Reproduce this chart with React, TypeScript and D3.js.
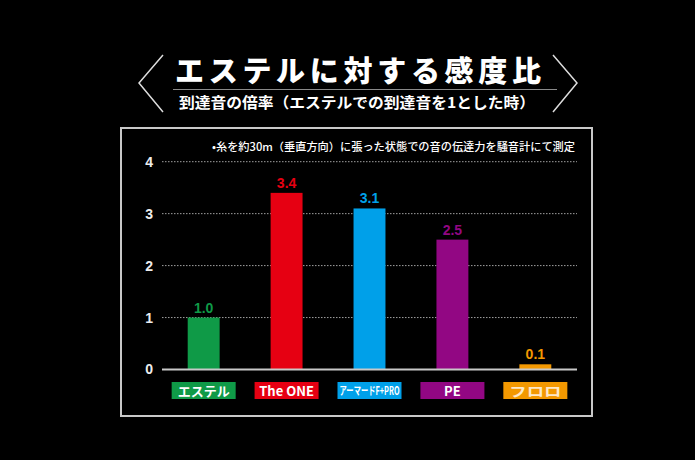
import { useRef, useEffect } from 'react'
import * as d3 from 'd3'

const W = 695
const H = 460

const categories = ['エステル', 'The ONE', 'アーマードF+PRO', 'PE', 'フロロ']
const values = [1.0, 3.4, 3.1, 2.5, 0.1]
const valueLabels = ['1.0', '3.4', '3.1', '2.5', '0.1']
const colors = ['#0f9a47', '#e60012', '#00a0e9', '#920783', '#f39800']
const yTicks = [0, 1, 2, 3, 4]

const TITLE = 'エステルに対する感度比'
const SUBTITLE = '到達音の倍率（エステルでの到達音を1とした時）'
const NOTE = '•糸を約30m（垂直方向）に張った状態での音の伝達力を騒音計にて測定'

const JP = '"Noto Sans CJK JP", "Noto Sans", sans-serif'
const PLOT = { left: 162, right: 577, top: 161.7, bottom: 369.5 }

export default function App() {
  const svgRef = useRef<SVGSVGElement>(null)

  useEffect(() => {
    if (!svgRef.current) return
    const svg = d3.select(svgRef.current)
    svg.selectAll('*').remove()

    svg.append('rect').attr('width', W).attr('height', H).attr('fill', '#000')

    // heading
    svg.append('text')
      .attr('x', 358).attr('y', 82)
      .attr('text-anchor', 'middle')
      .attr('fill', '#fff')
      .style('font-family', JP).style('font-weight', 900).style('font-size', '29px')
      .attr('textLength', 366).attr('lengthAdjust', 'spacing')
      .text(TITLE)

    svg.append('line')
      .attr('x1', 173).attr('x2', 557).attr('y1', 89.5).attr('y2', 89.5)
      .attr('stroke', '#8a8a8a').attr('stroke-width', 1)

    svg.append('text')
      .attr('x', 357).attr('y', 108)
      .attr('text-anchor', 'middle')
      .attr('fill', '#fff')
      .style('font-family', JP).style('font-weight', 700).style('font-size', '15px')
      .attr('textLength', 356).attr('lengthAdjust', 'spacingAndGlyphs')
      .text(SUBTITLE)

    const bracket = d3.line()
    svg.append('path')
      .attr('d', bracket([[163, 55], [139, 83], [163, 112]]))
      .attr('fill', 'none').attr('stroke', '#ddd').attr('stroke-width', 1.5)
    svg.append('path')
      .attr('d', bracket([[553, 55], [577, 83], [553, 112]]))
      .attr('fill', 'none').attr('stroke', '#ddd').attr('stroke-width', 1.5)

    // panel
    svg.append('rect')
      .attr('x', 121).attr('y', 128).attr('width', 471).attr('height', 288)
      .attr('fill', 'none').attr('stroke', '#c8c8c8').attr('stroke-width', 2)

    svg.append('text')
      .attr('x', 575).attr('y', 151)
      .attr('text-anchor', 'end')
      .attr('fill', '#fff')
      .style('font-family', JP).style('font-weight', 500).style('font-size', '11px')
      .attr('textLength', 363).attr('lengthAdjust', 'spacingAndGlyphs')
      .text(NOTE)

    const x = d3.scaleBand<string>()
      .domain(categories)
      .range([PLOT.left, PLOT.right])
      .paddingInner(0.615)
      .paddingOuter(0.31)

    const y = d3.scaleLinear().domain([0, 4]).range([PLOT.bottom, PLOT.top])

    // y axis
    const axis = svg.append('g')
      .attr('transform', `translate(${PLOT.left},0)`)
      .call(d3.axisLeft(y).tickValues(yTicks).tickFormat(d3.format('d')).tickSize(0).tickPadding(9))
    axis.select('.domain').remove()
    axis.selectAll('text')
      .attr('fill', '#ececec')
      .style('font-family', '"Liberation Sans", Arial, sans-serif')
      .style('font-weight', 700).style('font-size', '14px')

    svg.append('g').selectAll('line')
      .data(yTicks.filter((t) => t > 0))
      .join('line')
      .attr('x1', PLOT.left).attr('x2', PLOT.right)
      .attr('y1', (t) => y(t)).attr('y2', (t) => y(t))
      .attr('stroke', '#a0a0a0').attr('stroke-width', 1)
      .attr('stroke-dasharray', '1.5,1.5')

    // bars
    svg.append('g').selectAll('rect')
      .data(categories)
      .join('rect')
      .attr('x', (c) => x(c) ?? 0)
      .attr('y', (_c, i) => y(values[i]))
      .attr('width', x.bandwidth())
      .attr('height', (_c, i) => y(0) - y(values[i]))
      .attr('fill', (_c, i) => colors[i])

    svg.append('line')
      .attr('x1', PLOT.left).attr('x2', PLOT.right)
      .attr('y1', y(0)).attr('y2', y(0))
      .attr('stroke', '#c8c8c8').attr('stroke-width', 2)

    // value labels
    svg.append('g').selectAll('text')
      .data(categories)
      .join('text')
      .attr('x', (c) => (x(c) ?? 0) + x.bandwidth() / 2)
      .attr('y', (_c, i) => y(values[i]) - 5)
      .attr('text-anchor', 'middle')
      .attr('fill', (_c, i) => colors[i])
      .style('font-family', '"Liberation Sans", Arial, sans-serif')
      .style('font-weight', 700).style('font-size', '14px')
      .text((_c, i) => valueLabels[i])

    // category boxes
    const boxW = 64
    const boxH = 17
    const boxes = svg.append('g').selectAll('g')
      .data(categories)
      .join('g')
      .attr('transform', (c) => `translate(${(x(c) ?? 0) + x.bandwidth() / 2},382)`)
    boxes.append('rect')
      .attr('x', -boxW / 2).attr('width', boxW).attr('height', boxH)
      .attr('fill', (_c, i) => colors[i])
    boxes.append('text')
      .attr('y', 13.5)
      .attr('text-anchor', 'middle')
      .attr('fill', (_c, i) => (i === 4 ? '#fde8c8' : '#fff'))
      .style('font-family', '"Noto Sans CJK JP", "Liberation Sans", sans-serif')
      .style('font-weight', 700)
      .style('font-size', (c) => (c === 'アーマードF+PRO' ? '11px' : '13px'))
      .each(function (c) {
        const t = d3.select(this)
        if (c === 'アーマードF+PRO') t.attr('y', 13).attr('textLength', 60).attr('lengthAdjust', 'spacingAndGlyphs')
        if (c === 'エステル' || c === 'フロロ') t.attr('textLength', 52).attr('lengthAdjust', 'spacingAndGlyphs')
      })
      .text((c) => c)
  }, [])

  return (
    <svg
      ref={svgRef}
      width={W}
      height={H}
      style={{ position: 'absolute', left: 0, top: 0, display: 'block' }}
    />
  )
}
